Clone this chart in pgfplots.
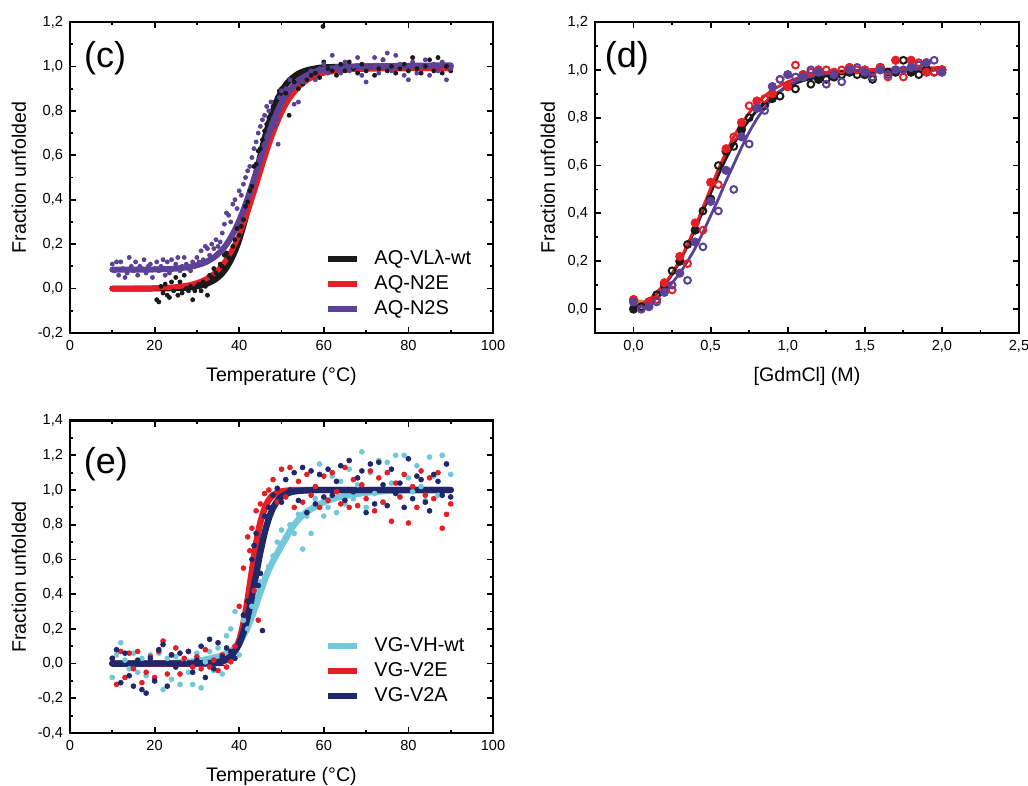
\documentclass[border=0pt]{standalone}
\usepackage{fontspec}
\setmainfont{Liberation Sans}
\usepackage{pgfplots}
\pgfplotsset{compat=1.18}

\definecolor{cblack}{RGB}{26,26,26}
\definecolor{cred}{RGB}{228,32,38}
\definecolor{cpurple}{RGB}{92,66,150}
\definecolor{ccyan}{RGB}{112,200,218}
\definecolor{cnavy}{RGB}{32,40,108}
\definecolor{corange}{RGB}{230,130,30}

\pgfplotsset{
  panel/.style={
    scale only axis,
    axis line style={line width=1.2pt},
    every tick/.style={line width=0.9pt, black},
    major tick length=3pt, minor tick length=1.6pt,
    minor tick num=1,
    tick label style={font=\fontsize{7.3}{8}\selectfont},
    label style={font=\fontsize{9.8}{11}\selectfont},
    /pgf/number format/assume math mode=true,
    /pgf/number format/use comma,
    yticklabel style={/pgf/number format/.cd, fixed, fixed zerofill, precision=1},
    ylabel={Fraction unfolded},
    legend style={draw=none, fill=none, inner sep=0pt, anchor=north west,
      font=\fontsize{10}{12}\selectfont, row sep=0pt,
      /tikz/every odd column/.append style={column sep=5pt}},
    legend cell align=left,
    legend image code/.code={\draw[#1, line width=3pt, line cap=butt] (0pt,0pt) -- (14.5pt,0pt);},
  },
  fit/.style={no marks, smooth, line width=3pt, line cap=round},
  dots/.style={only marks, mark=*, mark size=1pt, forget plot},
}

\begin{document}
\begin{tikzpicture}
\useasboundingbox (0,0) rectangle (514pt,-393pt);

% ---------------- (c)
\begin{axis}[panel,
  at={(35pt,-166.5pt)}, anchor=south west,
  width=211.5pt, height=155.5pt,
  xmin=0, xmax=100, ymin=-0.2, ymax=1.2,
  xtick={0,20,40,60,80,100},
  ytick={-0.2,0,0.2,0.4,0.6,0.8,1.0,1.2},
  xlabel={Temperature (°C)},
  xlabel style={at={(axis description cs:0.5,-0.141)}, anchor=center},
  ylabel style={at={(axis description cs:-0.121,0.5)}, anchor=center},
  legend style={at={(0.603,0.28)}},
]
\addplot[dots, cblack] coordinates {
(20.5,-0.05)(21,-0.06)(21.5,0.01)(22,-0.02)(22.5,0.02)(23,-0.03)(23.5,-0.04)(24,0.03)(24.5,-0.01)(25,0.05)
(25.5,-0.03)(26,0.03)(26.5,-0.02)(27,0.06)(27.5,0.00)(28,-0.01)(28.5,0.01)(29,-0.05)(29.5,-0.01)(30,0.01)
(30.5,0.02)(31,-0.01)(31.5,0.03)(32,0.01)(32.5,-0.03)(33,0.06)(33.5,0.05)(34,0.09)(34.5,0.07)(35,0.06)
(35.5,0.11)(36,0.10)(36.5,0.15)(37,0.16)(37.5,0.14)(38,0.13)(38.5,0.19)(39,0.22)(39.5,0.27)(40,0.24)
(40.5,0.28)(41,0.31)(41.5,0.37)(42,0.39)(42.5,0.44)(43,0.46)(43.5,0.55)(44,0.56)(44.5,0.62)(45,0.63)
(45.5,0.67)(46,0.71)(46.5,0.74)(47,0.77)(47.5,0.79)(48,0.82)(48.5,0.84)(49,0.86)(49.5,0.89)(50,0.90)
(51,0.88)(51.8,0.78)(53,0.93)(54,0.90)(55,0.92)(56,0.94)(57,0.96)(58,0.97)(59,0.95)(59.8,1.18)(60,1.02)
(61,0.99)(62,0.98)(63,0.96)(64,1.01)(65,0.98)(66,1.02)(67,0.99)(68,0.97)(69,1.01)(70,0.98)
(71,1.00)(72,0.96)(73,0.99)(74,1.03)(75,0.98)(76,1.00)(77,0.97)(78,0.99)(79,1.01)(80,0.98)
(81,1.04)(82,0.99)(83,0.97)(84,1.00)(85,1.03)(86,0.98)(87,1.04)(88,0.97)(89,1.00)(90,0.98)
};
\addplot[dots, cpurple] coordinates {
(10,0.11)(10.5,0.08)(11,0.12)(11.5,0.06)(12,0.12)(12.5,0.09)(13,0.05)(13.5,0.07)(14,0.14)(14.5,0.10)
(15,0.08)(15.5,0.12)(16,0.06)(16.5,0.10)(17,0.09)(17.5,0.13)(18,0.07)(18.5,0.10)(19,0.11)(19.5,0.05)
(20,0.09)(20.5,0.12)(21,0.08)(21.5,0.10)(22,0.13)(22.5,0.06)(23,0.12)(23.5,0.07)(24,0.13)(24.5,0.09)
(25,0.11)(25.5,0.14)(26,0.08)(26.5,0.10)(27,0.14)(27.5,0.11)(28,0.09)(28.5,0.08)(29,0.12)(29.5,0.10)
(30,0.14)(30.5,0.12)(31,0.17)(31.5,0.13)(32,0.19)(32.5,0.18)(33,0.15)(33.5,0.20)(34,0.18)(34.5,0.22)
(35,0.19)(35.5,0.21)(36,0.25)(36.5,0.29)(37,0.34)(37.5,0.33)(38,0.30)(38.5,0.38)(39,0.40)(39.5,0.36)
(40,0.44)(40.5,0.42)(41,0.47)(41.5,0.50)(42,0.53)(42.5,0.55)(43,0.59)(43.5,0.63)(44,0.66)(44.5,0.70)
(45,0.73)(45.5,0.76)(46,0.78)(46.5,0.82)(47,0.80)(47.5,0.84)(49.2,0.65)(48.5,0.73)(49,0.76)(49.5,0.86)
(50,0.89)(51,0.90)(52,0.94)(53,0.83)(54,0.84)(55,0.93)(56,0.96)(57,0.98)(58,0.94)(59,0.99)
(60,1.01)(61,0.97)(62,1.05)(63,1.00)(64,0.97)(65,1.02)(66,0.98)(67,1.00)(68,1.04)(69,0.96)
(70,0.93)(71,1.00)(72,1.04)(73,0.97)(74,1.03)(75,1.06)(76,0.98)(77,1.05)(78,1.01)(79,0.96)
(80,0.94)(81,1.02)(82,0.97)(83,1.00)(84,1.03)(85,0.96)(86,1.01)(87,0.98)(88,1.02)(89,0.94)(90,0.99)
};
\addplot[fit, cblack] coordinates {
(10,0)(15,0.0001)(20,0.0004)(25,0.002)(28,0.005)(30,0.010)(32,0.019)(34,0.037)(35,0.051)(36,0.069)
(37,0.094)(38,0.127)(39,0.168)(40,0.219)(41,0.283)(42,0.354)(43,0.434)(44,0.517)(45,0.599)(46,0.676)
(47,0.744)(48,0.802)(49,0.850)(50,0.888)(51,0.917)(52,0.939)(54,0.968)(56,0.983)(58,0.991)(60,0.996)
(65,0.999)(70,1)(80,1)(90,1)
};
\addplot[fit, cred, line width=2.6pt] coordinates {
(10,0.000)(15,0.001)(20,0.002)(25,0.008)(28,0.016)(30,0.026)(32,0.042)(34,0.067)(35,0.084)(36,0.106)
(37,0.132)(38,0.163)(39,0.200)(40,0.243)(41,0.291)(42,0.345)(43,0.403)(44,0.464)(45,0.526)(46,0.587)
(47,0.645)(48,0.699)(49,0.747)(50,0.790)(51,0.827)(52,0.858)(54,0.906)(56,0.937)(58,0.957)(60,0.970)
(65,0.984)(70,0.988)(80,0.990)(90,0.990)
};
\addplot[fit, cpurple] coordinates {
(10,0.085)(15,0.085)(20,0.086)(25,0.090)(28,0.097)(30,0.105)(32,0.118)(34,0.140)(35,0.156)(36,0.175)
(37,0.199)(38,0.229)(39,0.265)(40,0.306)(41,0.353)(42,0.406)(43,0.464)(44,0.524)(45,0.585)(46,0.644)
(47,0.700)(48,0.752)(49,0.797)(50,0.836)(51,0.869)(52,0.896)(54,0.936)(56,0.960)(58,0.977)(60,0.986)
(65,0.996)(70,0.999)(80,1.003)(90,1.005)
};
\legend{AQ-VLλ-wt, AQ-N2E, AQ-N2S}
\node[font=\fontsize{18}{20}\selectfont] at (rel axis cs:0.083,0.885) {(c)};
\end{axis}

% ---------------- (d)
\begin{axis}[panel,
  at={(297.5pt,-166.5pt)}, anchor=south west,
  width=212pt, height=155.5pt,
  xmin=-0.25, xmax=2.5, ymin=-0.1, ymax=1.2,
  xtick={0,0.5,1,1.5,2,2.5},
  ytick={0,0.2,0.4,0.6,0.8,1.0,1.2},
  xticklabel style={/pgf/number format/.cd, fixed, fixed zerofill, precision=1},
  xlabel={[GdmCl] (M)},
  xlabel style={at={(axis description cs:0.5,-0.141)}, anchor=center},
  ylabel style={at={(axis description cs:-0.111,0.5)}, anchor=center},
]
\addplot[only marks, mark=*, mark size=2.1pt, cblack] coordinates {
(0,0.00)(0.1,0.03)(0.2,0.10)(0.3,0.20)(0.4,0.33)(0.5,0.46)(0.6,0.66)(0.7,0.75)(0.8,0.84)(0.9,0.88)
(1.0,0.93)(1.1,0.98)(1.2,0.96)(1.3,0.97)(1.4,0.99)(1.5,0.98)(1.6,1.01)(1.7,0.99)(1.8,0.99)(1.9,1.00)(2.0,1.00)
};
\addplot[only marks, mark=o, mark size=1.7pt, line width=1pt, cblack] coordinates {
(0.05,0.01)(0.15,0.06)(0.25,0.16)(0.35,0.27)(0.45,0.41)(0.55,0.60)(0.65,0.68)(0.75,0.80)(0.85,0.85)(0.95,0.89)
(1.05,0.92)(1.15,0.94)(1.25,0.96)(1.35,0.98)(1.45,0.98)(1.55,0.96)(1.65,0.99)(1.75,1.04)(1.85,0.98)(1.95,0.99)
};
\addplot[only marks, mark=*, mark size=2.1pt, cred] coordinates {
(0,0.04)(0.1,0.03)(0.2,0.11)(0.3,0.22)(0.4,0.36)(0.5,0.53)(0.6,0.67)(0.7,0.78)(0.8,0.87)(0.9,0.90)
(1.0,0.93)(1.1,0.98)(1.2,1.00)(1.3,0.99)(1.4,1.01)(1.5,1.00)(1.6,1.01)(1.7,1.04)(1.8,1.04)(1.9,0.99)(2.0,1.00)
};
\addplot[only marks, mark=o, mark size=1.7pt, line width=1pt, cred] coordinates {
(0.05,0.00)(0.15,0.04)(0.25,0.08)(0.35,0.19)(0.45,0.33)(0.55,0.52)(0.65,0.72)(0.75,0.85)(0.85,0.88)(0.95,0.96)
(1.05,1.02)(1.15,0.99)(1.25,1.00)(1.35,1.00)(1.45,1.00)(1.55,0.99)(1.65,0.97)(1.75,0.97)(1.85,1.03)(1.95,0.99)
};
\addplot[only marks, mark=*, mark size=2.1pt, cpurple] coordinates {
(0,0.03)(0.1,0.01)(0.2,0.07)(0.3,0.15)(0.4,0.28)(0.5,0.45)(0.6,0.58)(0.7,0.72)(0.8,0.84)(0.9,0.93)
(1.0,0.98)(1.1,0.97)(1.2,0.99)(1.3,0.98)(1.4,1.00)(1.5,0.99)(1.6,1.00)(1.7,1.00)(1.8,1.01)(1.9,1.03)(2.0,0.99)
};
\addplot[only marks, mark=o, mark size=1.7pt, line width=1pt, cpurple] coordinates {
(0.05,0.00)(0.15,0.03)(0.25,0.10)(0.35,0.12)(0.45,0.26)(0.55,0.41)(0.65,0.50)(0.75,0.69)(0.85,0.83)(0.95,0.96)
(1.05,0.97)(1.15,1.00)(1.25,0.94)(1.35,0.95)(1.45,1.01)(1.55,0.97)(1.65,0.98)(1.75,1.00)(1.85,1.02)(1.95,1.04)
};
\addplot[no marks, smooth, line width=2pt, corange] coordinates {(0,0.035)(0.05,0.03)(0.1,0.025)};
\addplot[no marks, smooth, line width=1.4pt, cblack] coordinates {
(0,0)(0.05,0.015)(0.1,0.035)(0.15,0.065)(0.2,0.10)(0.25,0.145)(0.3,0.20)(0.35,0.265)(0.4,0.335)(0.45,0.41)
(0.5,0.485)(0.55,0.56)(0.6,0.63)(0.65,0.69)(0.7,0.745)(0.75,0.79)(0.8,0.83)(0.85,0.86)(0.9,0.89)(1.0,0.93)
(1.1,0.955)(1.2,0.97)(1.3,0.98)(1.5,0.99)(1.75,0.995)(2.0,1.0)
};
\addplot[no marks, smooth, line width=1.4pt, cpurple] coordinates {
(0,0.0)(0.05,0.01)(0.1,0.025)(0.15,0.045)(0.2,0.075)(0.25,0.11)(0.3,0.15)(0.35,0.2)(0.4,0.255)(0.45,0.32)
(0.5,0.39)(0.55,0.46)(0.6,0.535)(0.65,0.605)(0.7,0.675)(0.75,0.74)(0.8,0.795)(0.85,0.84)(0.9,0.88)(0.95,0.91)
(1.0,0.935)(1.1,0.963)(1.2,0.978)(1.3,0.987)(1.5,0.995)(1.75,0.998)(2.0,1.0)
};
\addplot[no marks, smooth, line width=1.4pt, cred] coordinates {
(0,0.01)(0.05,0.02)(0.1,0.04)(0.15,0.07)(0.2,0.105)(0.25,0.15)(0.3,0.205)(0.35,0.27)(0.4,0.345)(0.45,0.425)
(0.5,0.505)(0.55,0.585)(0.6,0.655)(0.65,0.72)(0.7,0.775)(0.75,0.82)(0.8,0.86)(0.85,0.89)(0.9,0.915)(1.0,0.95)
(1.1,0.972)(1.2,0.985)(1.3,0.993)(1.5,1.0)(1.75,1.005)(2.0,1.01)
};
\node[font=\fontsize{18}{20}\selectfont] at (rel axis cs:0.075,0.885) {(d)};
\end{axis}

% ---------------- (e)
\begin{axis}[panel,
  at={(35pt,-366.5pt)}, anchor=south west,
  width=211.5pt, height=156.2pt,
  xmin=0, xmax=100, ymin=-0.4, ymax=1.4,
  xtick={0,20,40,60,80,100},
  ytick={-0.4,-0.2,0,0.2,0.4,0.6,0.8,1.0,1.2,1.4},
  xlabel={Temperature (°C)},
  xlabel style={at={(axis description cs:0.5,-0.138)}, anchor=center},
  ylabel style={at={(axis description cs:-0.121,0.5)}, anchor=center},
  legend style={at={(0.603,0.32)}},
]
\addplot[dots, ccyan, mark size=1.2pt] coordinates {
(10,-0.08)(11,0.05)(12,0.12)(13,0.02)(14,-0.03)(15,0.06)(16,-0.05)(17,0.03)(18,-0.07)(19,0.05)
(20,-0.10)(21,0.06)(22,-0.15)(23,0.03)(24,-0.09)(25,0.04)(26,-0.12)(27,0.02)(28,-0.05)(29,-0.12)
(30,0.06)(31,-0.14)(32,0.01)(33,0.07)(34,-0.04)(35,0.09)(36,-0.06)(37,0.16)(38,0.20)(39,0.30)
(40,0.05)(41,0.25)(42,0.20)(43,0.33)(44,0.42)(45,0.47)(46,0.50)(47,0.56)(48,0.62)(49,0.70)
(50,0.77)(51,0.73)(52,0.80)(53,0.75)(54,0.86)(55,0.66)(56,0.85)(57,0.75)(58,0.95)(59,1.15)
(60,0.85)(61,0.90)(62,1.08)(63,0.87)(64,1.05)(65,0.92)(66,1.12)(67,0.95)(68,1.03)(69,1.22)
(70,0.90)(71,1.10)(72,0.98)(73,1.17)(74,0.93)(75,1.16)(76,1.04)(77,1.20)(78,0.96)(79,1.20)
(80,1.07)(81,0.99)(82,1.14)(83,1.02)(84,0.94)(85,1.19)(86,1.08)(87,0.97)(88,1.20)(89,1.15)(90,1.09)
};
\addplot[dots, cred, mark size=1.2pt] coordinates {
(10,0.03)(11,-0.12)(12,0.07)(13,-0.08)(14,0.06)(15,-0.03)(16,0.07)(17,-0.11)(18,-0.05)(19,0.04)
(20,-0.08)(21,0.07)(22,0.13)(23,-0.06)(24,0.05)(25,0.09)(26,-0.06)(27,0.03)(28,0.07)(29,-0.02)
(30,0.04)(31,-0.03)(32,0.08)(33,-0.02)(34,0.02)(35,-0.04)(36,0.05)(37,-0.02)(38,0.01)(39,0.10)
(40,0.33)(41,0.55)(42,0.73)(42.5,0.65)(43,0.78)(43.5,0.42)(44,0.88)(44.5,0.25)(45,0.92)(46,0.98)
(47,1.00)(48,1.06)(49,0.93)(50,1.12)(51,0.96)(52,1.13)(53,0.90)(54,1.05)(55,0.93)(56,1.09)
(57,0.97)(58,1.02)(59,0.90)(60,1.08)(61,0.94)(62,1.10)(63,0.99)(64,0.92)(65,1.13)(66,0.90)
(67,1.06)(68,0.91)(69,1.03)(70,0.95)(71,1.11)(72,0.88)(73,1.07)(74,0.93)(75,1.10)(76,0.82)
(77,1.04)(78,0.96)(79,1.09)(80,0.81)(81,1.02)(82,0.90)(83,1.11)(84,0.97)(85,1.07)(86,0.95)
(87,1.10)(88,0.78)(89,0.86)(90,0.92)
};
\addplot[dots, cnavy, mark size=1.2pt] coordinates {
(10,0.03)(11,0.08)(12,-0.11)(13,0.06)(14,-0.07)(15,-0.13)(16,0.02)(17,-0.15)(18,-0.17)(19,0.03)
(20,-0.10)(21,0.08)(22,0.11)(23,-0.13)(24,0.05)(25,-0.02)(26,0.06)(27,0.00)(28,0.07)(29,-0.05)
(30,0.02)(31,0.10)(32,-0.08)(33,0.14)(34,-0.03)(35,0.12)(36,0.04)(37,0.09)(38,0.07)(39,0.03)
(40,0.12)(41,0.28)(42,0.36)(43,0.60)(43.5,0.68)(44,0.75)(44.5,0.45)(45,0.52)(45.5,0.19)(46,0.85)
(47,0.90)(48,0.97)(49,1.01)(50,0.93)(51,1.06)(52,1.00)(53,1.10)(54,0.94)(55,1.13)(56,0.87)
(57,1.11)(58,0.92)(59,1.09)(60,0.96)(61,1.12)(62,0.97)(63,1.05)(64,1.14)(65,0.94)(66,1.17)
(67,0.99)(68,1.07)(69,1.11)(70,0.87)(71,1.15)(72,0.92)(73,1.16)(74,1.03)(75,0.91)(76,1.12)
(77,0.98)(78,1.04)(79,0.90)(80,1.18)(81,0.95)(82,1.08)(83,1.06)(84,0.93)(85,0.88)(86,1.09)
(87,1.05)(88,0.97)(89,1.15)(90,0.96)
};
\addplot[fit, ccyan, line width=3.2pt] coordinates {
(10,0)(20,0.001)(25,0.004)(30,0.015)(33,0.028)(35,0.04)(37,0.058)(38,0.072)(39,0.092)(40,0.12)
(41,0.16)(42,0.21)(43,0.27)(44,0.34)(45,0.41)(46,0.48)(47,0.54)(48,0.59)(49,0.635)(50,0.68)
(51,0.72)(52,0.765)(53,0.80)(54,0.83)(55,0.855)(56,0.875)(57,0.89)(58,0.905)(60,0.93)(62,0.948)
(65,0.966)(70,0.985)(75,0.995)(80,0.999)(90,1.0)
};
\addplot[fit, cred, line width=3.2pt] coordinates {
(10,0)(30,0.0002)(32,0.0007)(34,0.003)(35,0.006)(36,0.011)(37,0.021)(38,0.039)(39,0.073)(40,0.134)
(40.5,0.178)(41,0.232)(41.5,0.296)(42,0.370)(42.5,0.450)(43,0.533)(43.5,0.615)(44,0.690)(44.5,0.757)(45,0.813)
(46,0.894)(47,0.943)(48,0.970)(49,0.984)(50,0.992)(52,0.998)(55,1.0)(90,1.0)
};
\addplot[fit, cnavy, line width=3.2pt] coordinates {
(10,0)(30,0.0007)(32,0.002)(34,0.005)(35,0.009)(36,0.015)(37,0.026)(38,0.043)(39,0.071)(40,0.114)
(41,0.179)(41.5,0.221)(42,0.269)(42.5,0.324)(43,0.384)(43.5,0.448)(44,0.513)(44.5,0.578)(45,0.641)(46,0.751)
(47,0.836)(48,0.897)(49,0.936)(50,0.961)(52,0.986)(54,0.995)(57,0.999)(60,1.0)(90,1.0)
};
\legend{VG-VH-wt, VG-V2E, VG-V2A}
\node[font=\fontsize{18}{20}\selectfont] at (rel axis cs:0.085,0.86) {(e)};
\end{axis}
\end{tikzpicture}
\end{document}
